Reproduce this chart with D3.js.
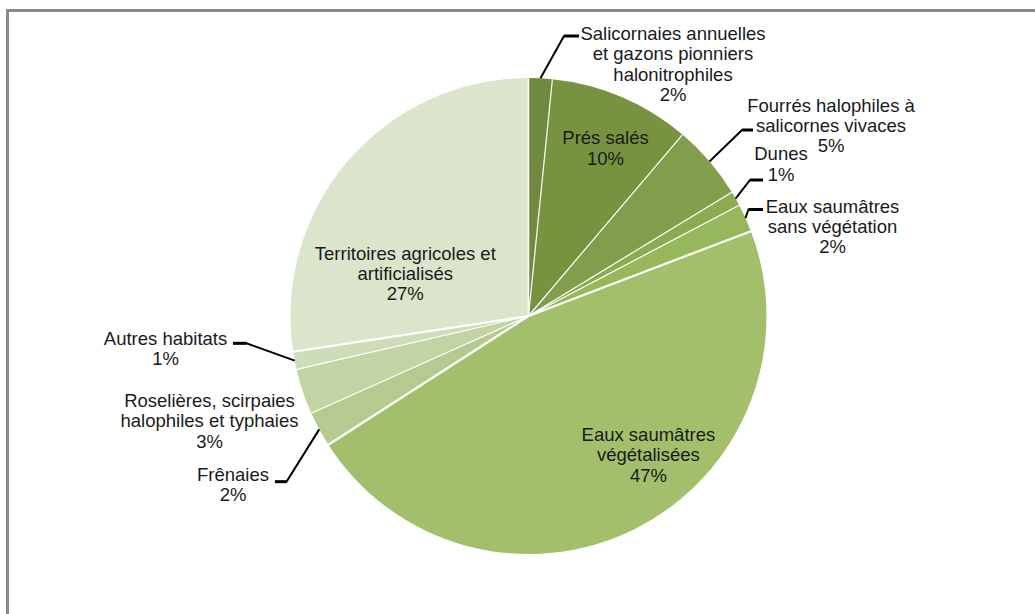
<!DOCTYPE html>
<html>
<head>
<meta charset="utf-8">
<script src="https://cdn.jsdelivr.net/npm/d3@7"></script>
<style>
  html, body { margin: 0; padding: 0; background: #fff; }
  svg { display: block; }
  text { font-family: "Liberation Sans", Arial, sans-serif; font-size: 18.5px; fill: #1a1a1a; }
</style>
</head>
<body>
<svg id="chart" width="1035" height="614"></svg>
<script>
// Habitat categories, clockwise from 12 o'clock
const categories = [
  "Salicornaies annuelles et gazons pionniers halonitrophiles",
  "Prés salés",
  "Fourrés halophiles à salicornes vivaces",
  "Dunes",
  "Eaux saumâtres sans végétation",
  "Eaux saumâtres végétalisées",
  "Frênaies",
  "Roselières, scirpaies halophiles et typhaies",
  "Autres habitats",
  "Territoires agricoles et artificialisés"
];

// Share of surface (%)
const values = [1.6, 9.6, 5.1, 1.0, 1.9, 46.7, 2.4, 3.1, 1.2, 27.4];

// Label text, broken into lines (the percentage is appended as the last line)
const labelLines = [
  ["Salicornaies annuelles", "et gazons pionniers", "halonitrophiles"],
  ["Prés salés"],
  ["Fourrés halophiles à", "salicornes vivaces"],
  ["Dunes"],
  ["Eaux saumâtres", "sans végétation"],
  ["Eaux saumâtres", "végétalisées"],
  ["Frênaies"],
  ["Roselières, scirpaies", "halophiles et typhaies"],
  ["Autres habitats"],
  ["Territoires agricoles et", "artificialisés"]
];

// Slice fills, dark to light green
const colors = [
  "#6f8a3e", "#77933f", "#809e4b", "#8aab52", "#96b85b",
  "#a2bf6c", "#b4ca8e", "#c2d3a4", "#cfdcba", "#dbe5cc"
];

// Label placement: centre x, first baseline, line step, and leader elbow points
const labelLayout = [
  { x: 673,   y: 40,    step: 20.4, leader: [[564, 36], [579, 36]] },
  { x: 605.5, y: 144,   step: 21,   leader: null },
  { x: 831,   y: 111.7, step: 20,   leader: [[742, 130], [753, 130]] },
  { x: 781,   y: 160,   step: 20.5, leader: [[750, 180], [763, 180]] },
  { x: 832.5, y: 213.3, step: 19.8, leader: [[748.5, 209.5], [763, 209.5]] },
  { x: 648.4, y: 440.7, step: 20.4, leader: null },
  { x: 233,   y: 480.5, step: 20.5, leader: [[286.5, 481.7], [275, 481.7]] },
  { x: 209.5, y: 406.7, step: 20.4, leader: null },
  { x: 165.5, y: 345,   step: 20,   leader: [[246.5, 343.3], [233, 343.3]] },
  { x: 405.3, y: 260,   step: 20,   leader: null }
];

// Border width per slice edge (the edge at the slice's start)
const edgeWidths = [1.5, 1.2, 1.2, 1.2, 1.2, 2.2, 2.2, 1.2, 1.2, 2.2];

const W = 1035, H = 614;
const cx = 528.5, cy = 316, R = 238;

const svg = d3.select("#chart");

// Outer frame (only its top and left edges fall inside the view)
svg.append("rect")
  .attr("x", 7.5).attr("y", 10.5)
  .attr("width", W + 20).attr("height", H + 20)
  .attr("fill", "none")
  .attr("stroke", "#898989")
  .attr("stroke-width", 3);

const total = d3.sum(values);
const pct = d3.format(".0%");

const pie = d3.pie().sort(null).value(d => d)
  .startAngle(0).endAngle(2 * Math.PI);
const arcs = pie(values);

const arc = d3.arc().innerRadius(0).outerRadius(R);
const rimArc = d3.arc().innerRadius(R).outerRadius(R);

const color = d3.scaleOrdinal().domain(categories).range(colors);

const g = svg.append("g").attr("transform", `translate(${cx},${cy})`);

g.selectAll("path.slice")
  .data(arcs)
  .join("path")
  .attr("class", "slice")
  .attr("d", arc)
  .attr("fill", (d, i) => color(categories[i]));

// White separators along each slice's starting radius
g.selectAll("line.sep")
  .data(arcs)
  .join("line")
  .attr("class", "sep")
  .attr("x1", 0).attr("y1", 0)
  .attr("x2", d => R * Math.sin(d.startAngle))
  .attr("y2", d => -R * Math.cos(d.startAngle))
  .attr("stroke", "#fff")
  .attr("stroke-width", (d, i) => edgeWidths[i]);

// Leader lines from the rim to the outside labels
const line = d3.line();
arcs.forEach((d, i) => {
  const lay = labelLayout[i];
  if (!lay.leader) return;
  const [rx, ry] = rimArc.centroid(d);
  const pts = [[cx + rx, cy + ry]].concat(lay.leader);
  svg.append("path")
    .attr("d", line(pts))
    .attr("fill", "none")
    .attr("stroke", "#000")
    .attr("stroke-width", 2);
  const [a, b] = lay.leader.slice(-2);
  svg.append("path")
    .attr("d", line([a, b]))
    .attr("stroke", "#000")
    .attr("stroke-width", 3);
});

// Labels
arcs.forEach((d, i) => {
  const lay = labelLayout[i];
  const lines = labelLines[i].concat([pct(d.value / total)]);
  const t = svg.append("text")
    .attr("text-anchor", "middle");
  lines.forEach((s, k) => {
    t.append("tspan")
      .attr("x", lay.x)
      .attr("y", lay.y + k * lay.step)
      .text(s);
  });
});
</script>
</body>
</html>
